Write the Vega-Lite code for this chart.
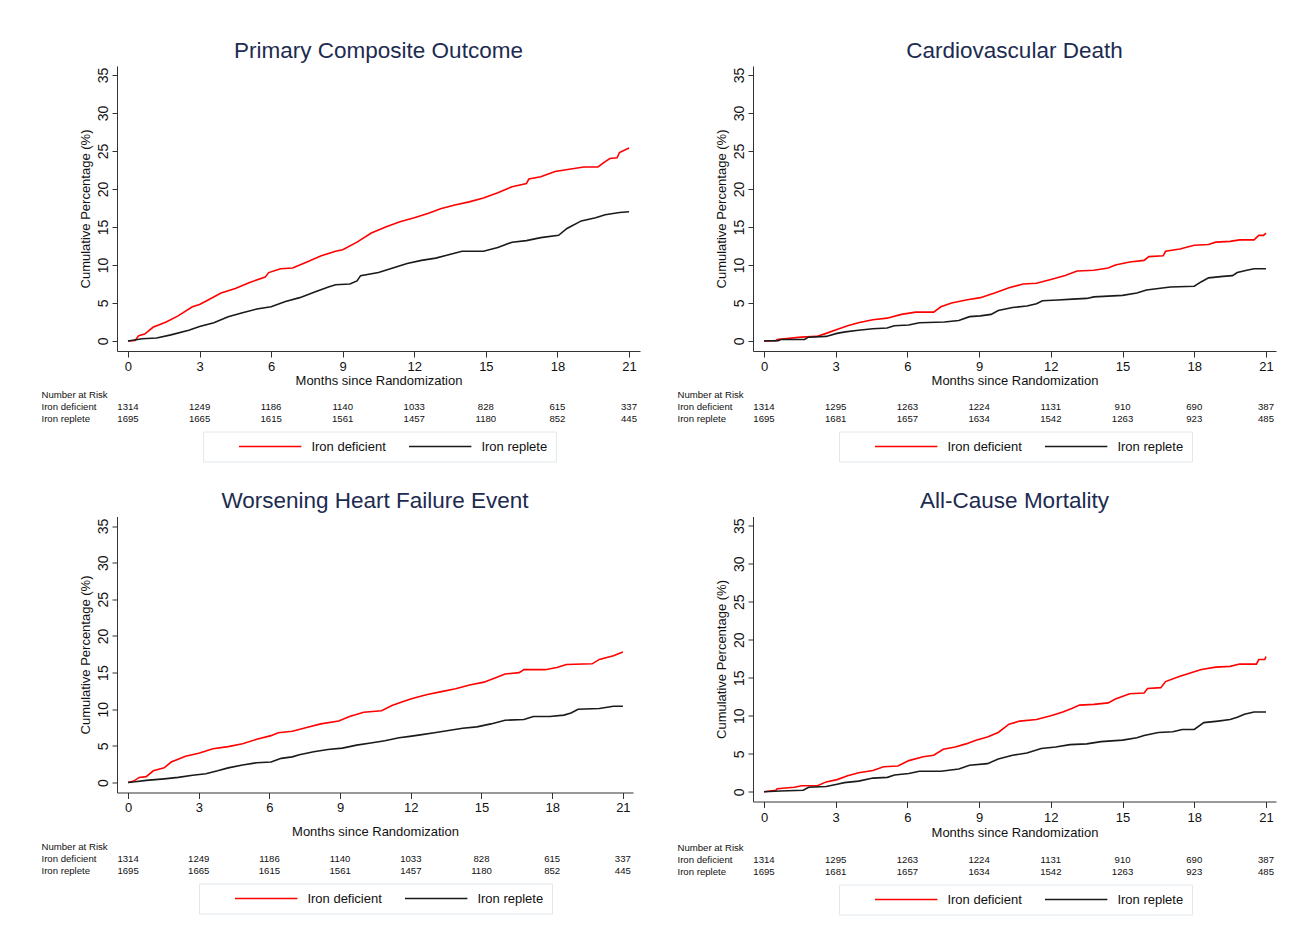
{
  "$schema": "https://vega.github.io/schema/vega-lite/v6.json",
  "background": "white",
  "padding": {"left": 41, "top": 39, "right": 5, "bottom": 5},
  "config": {
    "view": {"stroke": null},
    "font": "Liberation Sans",
    "axis": {"labelFont": "Liberation Sans", "titleFont": "Liberation Sans", "domainColor": "#333333", "tickColor": "#333333", "labelColor": "#111111", "titleColor": "#111111", "titleFontWeight": "normal", "grid": false},
    "legend": {"labelFont": "Liberation Sans"}
  },
  "datasets": {
    "curves": [
      {"p":"A","g":"Iron deficient","t":0,"v":0},{"p":"A","g":"Iron deficient","t":0.3,"v":0.05},{"p":"A","g":"Iron deficient","t":0.45,"v":0.7},{"p":"A","g":"Iron deficient","t":0.7,"v":0.9},{"p":"A","g":"Iron deficient","t":1.05,"v":1.8},{"p":"A","g":"Iron deficient","t":1.6,"v":2.5},{"p":"A","g":"Iron deficient","t":2.1,"v":3.3},{"p":"A","g":"Iron deficient","t":2.7,"v":4.5},{"p":"A","g":"Iron deficient","t":3.0,"v":4.8},{"p":"A","g":"Iron deficient","t":3.3,"v":5.3},{"p":"A","g":"Iron deficient","t":3.9,"v":6.3},{"p":"A","g":"Iron deficient","t":4.5,"v":6.9},{"p":"A","g":"Iron deficient","t":5.1,"v":7.7},{"p":"A","g":"Iron deficient","t":5.75,"v":8.4},{"p":"A","g":"Iron deficient","t":5.9,"v":9.0},{"p":"A","g":"Iron deficient","t":6.4,"v":9.5},{"p":"A","g":"Iron deficient","t":6.9,"v":9.6},{"p":"A","g":"Iron deficient","t":7.5,"v":10.4},{"p":"A","g":"Iron deficient","t":8.1,"v":11.2},{"p":"A","g":"Iron deficient","t":8.7,"v":11.8},{"p":"A","g":"Iron deficient","t":9.0,"v":12.0},{"p":"A","g":"Iron deficient","t":9.6,"v":13.0},{"p":"A","g":"Iron deficient","t":10.2,"v":14.2},{"p":"A","g":"Iron deficient","t":10.8,"v":15.0},{"p":"A","g":"Iron deficient","t":11.4,"v":15.7},{"p":"A","g":"Iron deficient","t":12.0,"v":16.2},{"p":"A","g":"Iron deficient","t":12.6,"v":16.8},{"p":"A","g":"Iron deficient","t":13.1,"v":17.4},{"p":"A","g":"Iron deficient","t":13.7,"v":17.9},{"p":"A","g":"Iron deficient","t":14.3,"v":18.3},{"p":"A","g":"Iron deficient","t":14.9,"v":18.8},{"p":"A","g":"Iron deficient","t":15.5,"v":19.5},{"p":"A","g":"Iron deficient","t":16.1,"v":20.3},{"p":"A","g":"Iron deficient","t":16.7,"v":20.7},{"p":"A","g":"Iron deficient","t":16.8,"v":21.3},{"p":"A","g":"Iron deficient","t":17.3,"v":21.6},{"p":"A","g":"Iron deficient","t":17.9,"v":22.3},{"p":"A","g":"Iron deficient","t":18.5,"v":22.6},{"p":"A","g":"Iron deficient","t":19.1,"v":22.9},{"p":"A","g":"Iron deficient","t":19.7,"v":22.9},{"p":"A","g":"Iron deficient","t":20.0,"v":23.6},{"p":"A","g":"Iron deficient","t":20.2,"v":24.0},{"p":"A","g":"Iron deficient","t":20.5,"v":24.1},{"p":"A","g":"Iron deficient","t":20.6,"v":24.8},{"p":"A","g":"Iron deficient","t":21.0,"v":25.4},
      {"p":"A","g":"Iron replete","t":0,"v":0},{"p":"A","g":"Iron replete","t":0.6,"v":0.3},{"p":"A","g":"Iron replete","t":1.2,"v":0.4},{"p":"A","g":"Iron replete","t":1.8,"v":0.8},{"p":"A","g":"Iron replete","t":2.55,"v":1.4},{"p":"A","g":"Iron replete","t":3.0,"v":1.9},{"p":"A","g":"Iron replete","t":3.6,"v":2.4},{"p":"A","g":"Iron replete","t":4.2,"v":3.2},{"p":"A","g":"Iron replete","t":4.8,"v":3.7},{"p":"A","g":"Iron replete","t":5.4,"v":4.2},{"p":"A","g":"Iron replete","t":6.0,"v":4.5},{"p":"A","g":"Iron replete","t":6.6,"v":5.2},{"p":"A","g":"Iron replete","t":7.2,"v":5.7},{"p":"A","g":"Iron replete","t":7.8,"v":6.4},{"p":"A","g":"Iron replete","t":8.4,"v":7.1},{"p":"A","g":"Iron replete","t":8.7,"v":7.4},{"p":"A","g":"Iron replete","t":9.3,"v":7.5},{"p":"A","g":"Iron replete","t":9.6,"v":7.9},{"p":"A","g":"Iron replete","t":9.75,"v":8.6},{"p":"A","g":"Iron replete","t":10.5,"v":9.0},{"p":"A","g":"Iron replete","t":11.1,"v":9.6},{"p":"A","g":"Iron replete","t":11.7,"v":10.2},{"p":"A","g":"Iron replete","t":12.3,"v":10.6},{"p":"A","g":"Iron replete","t":12.9,"v":10.9},{"p":"A","g":"Iron replete","t":13.4,"v":11.3},{"p":"A","g":"Iron replete","t":14.0,"v":11.8},{"p":"A","g":"Iron replete","t":14.9,"v":11.8},{"p":"A","g":"Iron replete","t":15.5,"v":12.3},{"p":"A","g":"Iron replete","t":16.1,"v":13.0},{"p":"A","g":"Iron replete","t":16.7,"v":13.2},{"p":"A","g":"Iron replete","t":17.3,"v":13.6},{"p":"A","g":"Iron replete","t":18.05,"v":13.9},{"p":"A","g":"Iron replete","t":18.4,"v":14.8},{"p":"A","g":"Iron replete","t":19.0,"v":15.8},{"p":"A","g":"Iron replete","t":19.6,"v":16.2},{"p":"A","g":"Iron replete","t":20.0,"v":16.6},{"p":"A","g":"Iron replete","t":20.6,"v":16.9},{"p":"A","g":"Iron replete","t":21.0,"v":17.0},
      {"p":"B","g":"Iron deficient","t":0,"v":0},{"p":"B","g":"Iron deficient","t":0.5,"v":0.05},{"p":"B","g":"Iron deficient","t":0.55,"v":0.2},{"p":"B","g":"Iron deficient","t":1.55,"v":0.5},{"p":"B","g":"Iron deficient","t":2.2,"v":0.6},{"p":"B","g":"Iron deficient","t":2.6,"v":1.0},{"p":"B","g":"Iron deficient","t":3.05,"v":1.5},{"p":"B","g":"Iron deficient","t":3.5,"v":2.0},{"p":"B","g":"Iron deficient","t":3.95,"v":2.4},{"p":"B","g":"Iron deficient","t":4.55,"v":2.8},{"p":"B","g":"Iron deficient","t":5.15,"v":3.0},{"p":"B","g":"Iron deficient","t":5.75,"v":3.5},{"p":"B","g":"Iron deficient","t":6.35,"v":3.8},{"p":"B","g":"Iron deficient","t":7.1,"v":3.8},{"p":"B","g":"Iron deficient","t":7.4,"v":4.5},{"p":"B","g":"Iron deficient","t":7.85,"v":5.0},{"p":"B","g":"Iron deficient","t":8.45,"v":5.4},{"p":"B","g":"Iron deficient","t":9.05,"v":5.7},{"p":"B","g":"Iron deficient","t":9.65,"v":6.3},{"p":"B","g":"Iron deficient","t":10.25,"v":7.0},{"p":"B","g":"Iron deficient","t":10.85,"v":7.5},{"p":"B","g":"Iron deficient","t":11.4,"v":7.6},{"p":"B","g":"Iron deficient","t":12.0,"v":8.1},{"p":"B","g":"Iron deficient","t":12.6,"v":8.6},{"p":"B","g":"Iron deficient","t":13.1,"v":9.2},{"p":"B","g":"Iron deficient","t":13.8,"v":9.3},{"p":"B","g":"Iron deficient","t":14.4,"v":9.6},{"p":"B","g":"Iron deficient","t":14.7,"v":10.0},{"p":"B","g":"Iron deficient","t":15.3,"v":10.4},{"p":"B","g":"Iron deficient","t":15.9,"v":10.6},{"p":"B","g":"Iron deficient","t":16.1,"v":11.1},{"p":"B","g":"Iron deficient","t":16.7,"v":11.2},{"p":"B","g":"Iron deficient","t":16.8,"v":11.8},{"p":"B","g":"Iron deficient","t":17.4,"v":12.1},{"p":"B","g":"Iron deficient","t":18.0,"v":12.6},{"p":"B","g":"Iron deficient","t":18.6,"v":12.7},{"p":"B","g":"Iron deficient","t":18.9,"v":13.0},{"p":"B","g":"Iron deficient","t":19.5,"v":13.1},{"p":"B","g":"Iron deficient","t":19.9,"v":13.3},{"p":"B","g":"Iron deficient","t":20.5,"v":13.3},{"p":"B","g":"Iron deficient","t":20.7,"v":13.9},{"p":"B","g":"Iron deficient","t":20.9,"v":13.9},{"p":"B","g":"Iron deficient","t":21.0,"v":14.2},
      {"p":"B","g":"Iron replete","t":0,"v":0},{"p":"B","g":"Iron replete","t":0.6,"v":0.05},{"p":"B","g":"Iron replete","t":0.7,"v":0.2},{"p":"B","g":"Iron replete","t":1.7,"v":0.2},{"p":"B","g":"Iron replete","t":1.85,"v":0.5},{"p":"B","g":"Iron replete","t":2.6,"v":0.6},{"p":"B","g":"Iron replete","t":3.05,"v":1.0},{"p":"B","g":"Iron replete","t":3.4,"v":1.2},{"p":"B","g":"Iron replete","t":3.95,"v":1.4},{"p":"B","g":"Iron replete","t":4.55,"v":1.6},{"p":"B","g":"Iron replete","t":5.15,"v":1.7},{"p":"B","g":"Iron replete","t":5.45,"v":2.0},{"p":"B","g":"Iron replete","t":6.05,"v":2.1},{"p":"B","g":"Iron replete","t":6.5,"v":2.4},{"p":"B","g":"Iron replete","t":7.55,"v":2.5},{"p":"B","g":"Iron replete","t":8.15,"v":2.7},{"p":"B","g":"Iron replete","t":8.6,"v":3.2},{"p":"B","g":"Iron replete","t":9.05,"v":3.3},{"p":"B","g":"Iron replete","t":9.5,"v":3.5},{"p":"B","g":"Iron replete","t":9.8,"v":4.0},{"p":"B","g":"Iron replete","t":10.4,"v":4.4},{"p":"B","g":"Iron replete","t":11.0,"v":4.6},{"p":"B","g":"Iron replete","t":11.4,"v":4.9},{"p":"B","g":"Iron replete","t":11.65,"v":5.3},{"p":"B","g":"Iron replete","t":12.3,"v":5.4},{"p":"B","g":"Iron replete","t":12.9,"v":5.5},{"p":"B","g":"Iron replete","t":13.5,"v":5.6},{"p":"B","g":"Iron replete","t":13.8,"v":5.8},{"p":"B","g":"Iron replete","t":14.4,"v":5.9},{"p":"B","g":"Iron replete","t":15.0,"v":6.0},{"p":"B","g":"Iron replete","t":15.6,"v":6.3},{"p":"B","g":"Iron replete","t":16.0,"v":6.7},{"p":"B","g":"Iron replete","t":16.5,"v":6.9},{"p":"B","g":"Iron replete","t":17.0,"v":7.1},{"p":"B","g":"Iron replete","t":18.0,"v":7.2},{"p":"B","g":"Iron replete","t":18.3,"v":7.8},{"p":"B","g":"Iron replete","t":18.6,"v":8.3},{"p":"B","g":"Iron replete","t":19.2,"v":8.5},{"p":"B","g":"Iron replete","t":19.6,"v":8.6},{"p":"B","g":"Iron replete","t":19.8,"v":9.0},{"p":"B","g":"Iron replete","t":20.2,"v":9.3},{"p":"B","g":"Iron replete","t":20.5,"v":9.5},{"p":"B","g":"Iron replete","t":21.0,"v":9.5},
      {"p":"C","g":"Iron deficient","t":0,"v":0},{"p":"C","g":"Iron deficient","t":0.24,"v":0.2},{"p":"C","g":"Iron deficient","t":0.47,"v":0.7},{"p":"C","g":"Iron deficient","t":0.77,"v":0.8},{"p":"C","g":"Iron deficient","t":1.07,"v":1.6},{"p":"C","g":"Iron deficient","t":1.53,"v":2.0},{"p":"C","g":"Iron deficient","t":1.83,"v":2.8},{"p":"C","g":"Iron deficient","t":2.44,"v":3.6},{"p":"C","g":"Iron deficient","t":3.0,"v":4.0},{"p":"C","g":"Iron deficient","t":3.6,"v":4.6},{"p":"C","g":"Iron deficient","t":4.25,"v":4.9},{"p":"C","g":"Iron deficient","t":4.86,"v":5.3},{"p":"C","g":"Iron deficient","t":5.46,"v":5.9},{"p":"C","g":"Iron deficient","t":6.07,"v":6.4},{"p":"C","g":"Iron deficient","t":6.37,"v":6.8},{"p":"C","g":"Iron deficient","t":6.97,"v":7.0},{"p":"C","g":"Iron deficient","t":7.58,"v":7.5},{"p":"C","g":"Iron deficient","t":8.18,"v":8.0},{"p":"C","g":"Iron deficient","t":8.94,"v":8.4},{"p":"C","g":"Iron deficient","t":9.4,"v":9.0},{"p":"C","g":"Iron deficient","t":10.0,"v":9.6},{"p":"C","g":"Iron deficient","t":10.76,"v":9.8},{"p":"C","g":"Iron deficient","t":11.2,"v":10.5},{"p":"C","g":"Iron deficient","t":11.8,"v":11.2},{"p":"C","g":"Iron deficient","t":12.1,"v":11.5},{"p":"C","g":"Iron deficient","t":12.7,"v":12.0},{"p":"C","g":"Iron deficient","t":13.3,"v":12.4},{"p":"C","g":"Iron deficient","t":13.9,"v":12.8},{"p":"C","g":"Iron deficient","t":14.5,"v":13.3},{"p":"C","g":"Iron deficient","t":15.1,"v":13.7},{"p":"C","g":"Iron deficient","t":15.6,"v":14.3},{"p":"C","g":"Iron deficient","t":16.0,"v":14.8},{"p":"C","g":"Iron deficient","t":16.6,"v":15.0},{"p":"C","g":"Iron deficient","t":16.8,"v":15.4},{"p":"C","g":"Iron deficient","t":17.7,"v":15.4},{"p":"C","g":"Iron deficient","t":18.2,"v":15.7},{"p":"C","g":"Iron deficient","t":18.6,"v":16.1},{"p":"C","g":"Iron deficient","t":19.7,"v":16.2},{"p":"C","g":"Iron deficient","t":20.0,"v":16.8},{"p":"C","g":"Iron deficient","t":20.6,"v":17.3},{"p":"C","g":"Iron deficient","t":21.0,"v":17.8},
      {"p":"C","g":"Iron replete","t":0,"v":0},{"p":"C","g":"Iron replete","t":0.3,"v":0.1},{"p":"C","g":"Iron replete","t":0.77,"v":0.3},{"p":"C","g":"Iron replete","t":1.53,"v":0.5},{"p":"C","g":"Iron replete","t":2.13,"v":0.7},{"p":"C","g":"Iron replete","t":2.74,"v":1.0},{"p":"C","g":"Iron replete","t":3.3,"v":1.2},{"p":"C","g":"Iron replete","t":3.8,"v":1.6},{"p":"C","g":"Iron replete","t":4.25,"v":2.0},{"p":"C","g":"Iron replete","t":4.86,"v":2.4},{"p":"C","g":"Iron replete","t":5.46,"v":2.7},{"p":"C","g":"Iron replete","t":6.07,"v":2.8},{"p":"C","g":"Iron replete","t":6.5,"v":3.3},{"p":"C","g":"Iron replete","t":6.97,"v":3.5},{"p":"C","g":"Iron replete","t":7.27,"v":3.8},{"p":"C","g":"Iron replete","t":7.88,"v":4.2},{"p":"C","g":"Iron replete","t":8.48,"v":4.5},{"p":"C","g":"Iron replete","t":9.1,"v":4.7},{"p":"C","g":"Iron replete","t":9.7,"v":5.1},{"p":"C","g":"Iron replete","t":10.3,"v":5.4},{"p":"C","g":"Iron replete","t":10.9,"v":5.7},{"p":"C","g":"Iron replete","t":11.5,"v":6.1},{"p":"C","g":"Iron replete","t":11.96,"v":6.3},{"p":"C","g":"Iron replete","t":12.4,"v":6.5},{"p":"C","g":"Iron replete","t":13.0,"v":6.8},{"p":"C","g":"Iron replete","t":13.6,"v":7.1},{"p":"C","g":"Iron replete","t":14.2,"v":7.4},{"p":"C","g":"Iron replete","t":14.8,"v":7.6},{"p":"C","g":"Iron replete","t":15.4,"v":8.0},{"p":"C","g":"Iron replete","t":16.0,"v":8.5},{"p":"C","g":"Iron replete","t":16.8,"v":8.6},{"p":"C","g":"Iron replete","t":17.2,"v":9.0},{"p":"C","g":"Iron replete","t":17.9,"v":9.0},{"p":"C","g":"Iron replete","t":18.5,"v":9.2},{"p":"C","g":"Iron replete","t":18.8,"v":9.5},{"p":"C","g":"Iron replete","t":19.1,"v":10.0},{"p":"C","g":"Iron replete","t":20.0,"v":10.1},{"p":"C","g":"Iron replete","t":20.6,"v":10.4},{"p":"C","g":"Iron replete","t":21.0,"v":10.4},
      {"p":"D","g":"Iron deficient","t":0,"v":0},{"p":"D","g":"Iron deficient","t":0.5,"v":0.2},{"p":"D","g":"Iron deficient","t":0.55,"v":0.4},{"p":"D","g":"Iron deficient","t":1.27,"v":0.6},{"p":"D","g":"Iron deficient","t":1.57,"v":0.8},{"p":"D","g":"Iron deficient","t":2.24,"v":0.8},{"p":"D","g":"Iron deficient","t":2.6,"v":1.3},{"p":"D","g":"Iron deficient","t":3.06,"v":1.6},{"p":"D","g":"Iron deficient","t":3.5,"v":2.1},{"p":"D","g":"Iron deficient","t":3.96,"v":2.5},{"p":"D","g":"Iron deficient","t":4.56,"v":2.8},{"p":"D","g":"Iron deficient","t":5.0,"v":3.3},{"p":"D","g":"Iron deficient","t":5.6,"v":3.4},{"p":"D","g":"Iron deficient","t":6.06,"v":4.1},{"p":"D","g":"Iron deficient","t":6.66,"v":4.6},{"p":"D","g":"Iron deficient","t":7.1,"v":4.8},{"p":"D","g":"Iron deficient","t":7.5,"v":5.6},{"p":"D","g":"Iron deficient","t":8.0,"v":5.9},{"p":"D","g":"Iron deficient","t":8.45,"v":6.3},{"p":"D","g":"Iron deficient","t":8.9,"v":6.8},{"p":"D","g":"Iron deficient","t":9.35,"v":7.2},{"p":"D","g":"Iron deficient","t":9.8,"v":7.8},{"p":"D","g":"Iron deficient","t":10.25,"v":8.9},{"p":"D","g":"Iron deficient","t":10.7,"v":9.3},{"p":"D","g":"Iron deficient","t":11.4,"v":9.5},{"p":"D","g":"Iron deficient","t":12.0,"v":10.0},{"p":"D","g":"Iron deficient","t":12.5,"v":10.5},{"p":"D","g":"Iron deficient","t":12.9,"v":11.0},{"p":"D","g":"Iron deficient","t":13.2,"v":11.4},{"p":"D","g":"Iron deficient","t":13.8,"v":11.5},{"p":"D","g":"Iron deficient","t":14.4,"v":11.7},{"p":"D","g":"Iron deficient","t":14.7,"v":12.2},{"p":"D","g":"Iron deficient","t":15.3,"v":12.9},{"p":"D","g":"Iron deficient","t":15.9,"v":13.0},{"p":"D","g":"Iron deficient","t":16.05,"v":13.6},{"p":"D","g":"Iron deficient","t":16.6,"v":13.7},{"p":"D","g":"Iron deficient","t":16.8,"v":14.5},{"p":"D","g":"Iron deficient","t":17.4,"v":15.2},{"p":"D","g":"Iron deficient","t":18.0,"v":15.8},{"p":"D","g":"Iron deficient","t":18.3,"v":16.1},{"p":"D","g":"Iron deficient","t":18.9,"v":16.4},{"p":"D","g":"Iron deficient","t":19.5,"v":16.5},{"p":"D","g":"Iron deficient","t":19.9,"v":16.8},{"p":"D","g":"Iron deficient","t":20.6,"v":16.8},{"p":"D","g":"Iron deficient","t":20.7,"v":17.4},{"p":"D","g":"Iron deficient","t":20.95,"v":17.4},{"p":"D","g":"Iron deficient","t":21.0,"v":17.8},
      {"p":"D","g":"Iron replete","t":0,"v":0},{"p":"D","g":"Iron replete","t":0.67,"v":0.1},{"p":"D","g":"Iron replete","t":1.64,"v":0.2},{"p":"D","g":"Iron replete","t":1.87,"v":0.6},{"p":"D","g":"Iron replete","t":2.6,"v":0.7},{"p":"D","g":"Iron replete","t":3.06,"v":1.0},{"p":"D","g":"Iron replete","t":3.36,"v":1.2},{"p":"D","g":"Iron replete","t":3.96,"v":1.4},{"p":"D","g":"Iron replete","t":4.56,"v":1.8},{"p":"D","g":"Iron replete","t":5.16,"v":1.9},{"p":"D","g":"Iron replete","t":5.46,"v":2.2},{"p":"D","g":"Iron replete","t":6.06,"v":2.4},{"p":"D","g":"Iron replete","t":6.5,"v":2.7},{"p":"D","g":"Iron replete","t":7.4,"v":2.7},{"p":"D","g":"Iron replete","t":8.15,"v":3.0},{"p":"D","g":"Iron replete","t":8.6,"v":3.5},{"p":"D","g":"Iron replete","t":9.35,"v":3.7},{"p":"D","g":"Iron replete","t":9.8,"v":4.3},{"p":"D","g":"Iron replete","t":10.4,"v":4.8},{"p":"D","g":"Iron replete","t":11.0,"v":5.1},{"p":"D","g":"Iron replete","t":11.6,"v":5.7},{"p":"D","g":"Iron replete","t":12.2,"v":5.9},{"p":"D","g":"Iron replete","t":12.8,"v":6.2},{"p":"D","g":"Iron replete","t":13.5,"v":6.3},{"p":"D","g":"Iron replete","t":14.1,"v":6.6},{"p":"D","g":"Iron replete","t":15.0,"v":6.8},{"p":"D","g":"Iron replete","t":15.6,"v":7.1},{"p":"D","g":"Iron replete","t":15.9,"v":7.4},{"p":"D","g":"Iron replete","t":16.5,"v":7.8},{"p":"D","g":"Iron replete","t":17.1,"v":7.9},{"p":"D","g":"Iron replete","t":17.5,"v":8.2},{"p":"D","g":"Iron replete","t":18.0,"v":8.2},{"p":"D","g":"Iron replete","t":18.4,"v":9.1},{"p":"D","g":"Iron replete","t":19.0,"v":9.3},{"p":"D","g":"Iron replete","t":19.5,"v":9.5},{"p":"D","g":"Iron replete","t":19.8,"v":9.8},{"p":"D","g":"Iron replete","t":20.1,"v":10.2},{"p":"D","g":"Iron replete","t":20.5,"v":10.5},{"p":"D","g":"Iron replete","t":21.0,"v":10.5}
    ],
    "risk": [
      {"p":"A","row":"Iron deficient","t":0,"n":1314},{"p":"A","row":"Iron deficient","t":3,"n":1249},{"p":"A","row":"Iron deficient","t":6,"n":1186},{"p":"A","row":"Iron deficient","t":9,"n":1140},{"p":"A","row":"Iron deficient","t":12,"n":1033},{"p":"A","row":"Iron deficient","t":15,"n":828},{"p":"A","row":"Iron deficient","t":18,"n":615},{"p":"A","row":"Iron deficient","t":21,"n":337},
      {"p":"A","row":"Iron replete","t":0,"n":1695},{"p":"A","row":"Iron replete","t":3,"n":1665},{"p":"A","row":"Iron replete","t":6,"n":1615},{"p":"A","row":"Iron replete","t":9,"n":1561},{"p":"A","row":"Iron replete","t":12,"n":1457},{"p":"A","row":"Iron replete","t":15,"n":1180},{"p":"A","row":"Iron replete","t":18,"n":852},{"p":"A","row":"Iron replete","t":21,"n":445},
      {"p":"B","row":"Iron deficient","t":0,"n":1314},{"p":"B","row":"Iron deficient","t":3,"n":1295},{"p":"B","row":"Iron deficient","t":6,"n":1263},{"p":"B","row":"Iron deficient","t":9,"n":1224},{"p":"B","row":"Iron deficient","t":12,"n":1131},{"p":"B","row":"Iron deficient","t":15,"n":910},{"p":"B","row":"Iron deficient","t":18,"n":690},{"p":"B","row":"Iron deficient","t":21,"n":387},
      {"p":"B","row":"Iron replete","t":0,"n":1695},{"p":"B","row":"Iron replete","t":3,"n":1681},{"p":"B","row":"Iron replete","t":6,"n":1657},{"p":"B","row":"Iron replete","t":9,"n":1634},{"p":"B","row":"Iron replete","t":12,"n":1542},{"p":"B","row":"Iron replete","t":15,"n":1263},{"p":"B","row":"Iron replete","t":18,"n":923},{"p":"B","row":"Iron replete","t":21,"n":485},
      {"p":"C","row":"Iron deficient","t":0,"n":1314},{"p":"C","row":"Iron deficient","t":3,"n":1249},{"p":"C","row":"Iron deficient","t":6,"n":1186},{"p":"C","row":"Iron deficient","t":9,"n":1140},{"p":"C","row":"Iron deficient","t":12,"n":1033},{"p":"C","row":"Iron deficient","t":15,"n":828},{"p":"C","row":"Iron deficient","t":18,"n":615},{"p":"C","row":"Iron deficient","t":21,"n":337},
      {"p":"C","row":"Iron replete","t":0,"n":1695},{"p":"C","row":"Iron replete","t":3,"n":1665},{"p":"C","row":"Iron replete","t":6,"n":1615},{"p":"C","row":"Iron replete","t":9,"n":1561},{"p":"C","row":"Iron replete","t":12,"n":1457},{"p":"C","row":"Iron replete","t":15,"n":1180},{"p":"C","row":"Iron replete","t":18,"n":852},{"p":"C","row":"Iron replete","t":21,"n":445},
      {"p":"D","row":"Iron deficient","t":0,"n":1314},{"p":"D","row":"Iron deficient","t":3,"n":1295},{"p":"D","row":"Iron deficient","t":6,"n":1263},{"p":"D","row":"Iron deficient","t":9,"n":1224},{"p":"D","row":"Iron deficient","t":12,"n":1131},{"p":"D","row":"Iron deficient","t":15,"n":910},{"p":"D","row":"Iron deficient","t":18,"n":690},{"p":"D","row":"Iron deficient","t":21,"n":387},
      {"p":"D","row":"Iron replete","t":0,"n":1695},{"p":"D","row":"Iron replete","t":3,"n":1681},{"p":"D","row":"Iron replete","t":6,"n":1657},{"p":"D","row":"Iron replete","t":9,"n":1634},{"p":"D","row":"Iron replete","t":12,"n":1542},{"p":"D","row":"Iron replete","t":15,"n":1263},{"p":"D","row":"Iron replete","t":18,"n":923},{"p":"D","row":"Iron replete","t":21,"n":485}
    ]
  },
  "resolve": {"scale": {"x": "independent", "y": "independent", "color": "independent"}, "axis": {"x": "independent", "y": "independent"}, "legend": {"color": "independent"}},
  "spacing": 27.5,
  "vconcat": [
    {
      "spacing": 37,
      "resolve": {"scale": {"x": "independent", "y": "independent", "color": "independent"}, "axis": {"x": "independent", "y": "independent"}, "legend": {"color": "independent"}},
      "hconcat": [
        {
          "spacing": 1.5,
          "resolve": {"scale": {"x": "independent", "y": "independent", "color": "independent"}, "axis": {"x": "independent", "y": "independent"}, "legend": {"color": "independent"}},
          "vconcat": [
            {
              "title": {"text": "Primary Composite Outcome", "fontSize": 22.5, "baseline": "alphabetic", "offset": -14, "color": "#1d2b50", "font": "Liberation Sans", "fontWeight": "normal", "anchor": "middle"},
              "width": 523, "height": 285,
              "data": {"name": "curves"},
              "transform": [{"filter": "datum.p === 'A'"}],
              "mark": {"type": "line", "strokeWidth": 1.6},
              "encoding": {
                "x": {"field": "t", "type": "quantitative", "scale": {"domain": [-0.46, 21.46], "nice": false, "zero": false}, "axis": {"values": [0,3,6,9,12,15,18,21], "title": "Months since Randomization", "labelFontSize": 13, "titleFontSize": 13, "tickSize": 6, "labelPadding": 3, "titlePadding": 1, "labelFlush": false, "labelOverlap": false}},
                "y": {"field": "v", "type": "quantitative", "scale": {"domain": [-1.32, 36.18], "nice": false, "zero": false}, "axis": {"values": [0,5,10,15,20,25,30,35], "title": "Cumulative Percentage (%)", "labelAngle": 270, "labelAlign": "center", "labelBaseline": "bottom", "labelFontSize": 14, "titleFontSize": 13, "tickSize": 5, "labelPadding": 2, "titlePadding": 4}},
                "color": {"field": "g", "type": "nominal", "scale": {"domain": ["Iron deficient", "Iron replete"], "range": ["#ff0000", "#1a1a1a"]}, "legend": null}
              }
            },
            {
              "width": 523, "height": 36,
              "layer": [
                {
                  "data": {"name": "risk"},
                  "transform": [{"filter": "datum.p === 'A'"}],
                  "mark": {"type": "text", "fontSize": 9.6, "font": "Liberation Sans", "color": "#111111"},
                  "encoding": {
                    "x": {"field": "t", "type": "quantitative", "scale": {"domain": [-0.46, 21.46], "nice": false, "zero": false}, "axis": null},
                    "y": {"field": "row", "type": "nominal", "scale": {"domain": ["Number at Risk", "Iron deficient", "Iron replete"]}, "axis": {"title": null, "domain": false, "ticks": false, "tickSize": 0, "labelAlign": "left", "labelBaseline": "middle", "labelPadding": 76, "labelFontSize": 9.6, "labelColor": "#111111"}},
                    "text": {"field": "n", "type": "quantitative", "format": "d"}
                  }
                },
                {
                  "data": {"name": "curves"},
                  "transform": [{"filter": "false"}],
                  "mark": {"type": "line"},
                  "encoding": {
                    "x": {"field": "t", "type": "quantitative"},
                    "y": {"field": "row", "type": "nominal"},
                    "color": {"field": "g", "type": "nominal", "scale": {"domain": ["Iron deficient", "Iron replete"], "range": ["#ff0000", "#1a1a1a"]},
                      "legend": {"orient": "none", "legendX": 86, "legendY": 43, "direction": "horizontal", "title": "\u00a0", "titleOrient": "left", "titleFontSize": 1, "titlePadding": 28, "padding": 8, "strokeColor": "#e2e8ec", "fillColor": "white", "symbolType": "M-5.2,0H5.2", "symbolSize": 144, "symbolStrokeWidth": 1.6, "symbolOffset": 24.2, "labelOffset": 34.2, "labelFontSize": 13, "labelColor": "#111111", "columnPadding": 19}}
                  }
                }
              ]
            }
          ]
        },
        {
          "spacing": 1.5,
          "resolve": {"scale": {"x": "independent", "y": "independent", "color": "independent"}, "axis": {"x": "independent", "y": "independent"}, "legend": {"color": "independent"}},
          "vconcat": [
            {
              "title": {"text": "Cardiovascular Death", "fontSize": 22.5, "baseline": "alphabetic", "offset": -14, "color": "#1d2b50", "font": "Liberation Sans", "fontWeight": "normal", "anchor": "middle"},
              "width": 523, "height": 285,
              "data": {"name": "curves"},
              "transform": [{"filter": "datum.p === 'B'"}],
              "mark": {"type": "line", "strokeWidth": 1.6},
              "encoding": {
                "x": {"field": "t", "type": "quantitative", "scale": {"domain": [-0.46, 21.42], "nice": false, "zero": false}, "axis": {"values": [0,3,6,9,12,15,18,21], "title": "Months since Randomization", "labelFontSize": 13, "titleFontSize": 13, "tickSize": 6, "labelPadding": 3, "titlePadding": 1, "labelFlush": false, "labelOverlap": false}},
                "y": {"field": "v", "type": "quantitative", "scale": {"domain": [-1.32, 36.18], "nice": false, "zero": false}, "axis": {"values": [0,5,10,15,20,25,30,35], "title": "Cumulative Percentage (%)", "labelAngle": 270, "labelAlign": "center", "labelBaseline": "bottom", "labelFontSize": 14, "titleFontSize": 13, "tickSize": 5, "labelPadding": 2, "titlePadding": 4}},
                "color": {"field": "g", "type": "nominal", "scale": {"domain": ["Iron deficient", "Iron replete"], "range": ["#ff0000", "#1a1a1a"]}, "legend": null}
              }
            },
            {
              "width": 523, "height": 36,
              "layer": [
                {
                  "data": {"name": "risk"},
                  "transform": [{"filter": "datum.p === 'B'"}],
                  "mark": {"type": "text", "fontSize": 9.6, "font": "Liberation Sans", "color": "#111111"},
                  "encoding": {
                    "x": {"field": "t", "type": "quantitative", "scale": {"domain": [-0.46, 21.42], "nice": false, "zero": false}, "axis": null},
                    "y": {"field": "row", "type": "nominal", "scale": {"domain": ["Number at Risk", "Iron deficient", "Iron replete"]}, "axis": {"title": null, "domain": false, "ticks": false, "tickSize": 0, "labelAlign": "left", "labelBaseline": "middle", "labelPadding": 76, "labelFontSize": 9.6, "labelColor": "#111111"}},
                    "text": {"field": "n", "type": "quantitative", "format": "d"}
                  }
                },
                {
                  "data": {"name": "curves"},
                  "transform": [{"filter": "false"}],
                  "mark": {"type": "line"},
                  "encoding": {
                    "x": {"field": "t", "type": "quantitative"},
                    "y": {"field": "row", "type": "nominal"},
                    "color": {"field": "g", "type": "nominal", "scale": {"domain": ["Iron deficient", "Iron replete"], "range": ["#ff0000", "#1a1a1a"]},
                      "legend": {"orient": "none", "legendX": 86, "legendY": 43, "direction": "horizontal", "title": "\u00a0", "titleOrient": "left", "titleFontSize": 1, "titlePadding": 28, "padding": 8, "strokeColor": "#e2e8ec", "fillColor": "white", "symbolType": "M-5.2,0H5.2", "symbolSize": 144, "symbolStrokeWidth": 1.6, "symbolOffset": 24.2, "labelOffset": 34.2, "labelFontSize": 13, "labelColor": "#111111", "columnPadding": 19}}
                  }
                }
              ]
            }
          ]
        }
      ]
    },
    {
      "spacing": 44,
      "resolve": {"scale": {"x": "independent", "y": "independent", "color": "independent"}, "axis": {"x": "independent", "y": "independent"}, "legend": {"color": "independent"}},
      "hconcat": [
        {
          "spacing": 2,
          "resolve": {"scale": {"x": "independent", "y": "independent", "color": "independent"}, "axis": {"x": "independent", "y": "independent"}, "legend": {"color": "independent"}},
          "vconcat": [
            {
              "title": {"text": "Worsening Heart Failure Event", "fontSize": 22.5, "baseline": "alphabetic", "offset": -14, "color": "#1d2b50", "font": "Liberation Sans", "fontWeight": "normal", "anchor": "middle"},
              "width": 516, "height": 276,
              "data": {"name": "curves"},
              "transform": [{"filter": "datum.p === 'C'"}],
              "mark": {"type": "line", "strokeWidth": 1.6},
              "encoding": {
                "x": {"field": "t", "type": "quantitative", "scale": {"domain": [-0.47, 21.43], "nice": false, "zero": false}, "axis": {"values": [0,3,6,9,12,15,18,21], "title": "Months since Randomization", "labelFontSize": 13, "titleFontSize": 13, "tickSize": 6, "labelPadding": 3.2, "titlePadding": 10.8, "labelFlush": false, "labelOverlap": false}},
                "y": {"field": "v", "type": "quantitative", "scale": {"domain": [-1.36, 36.3], "nice": false, "zero": false}, "axis": {"values": [0,5,10,15,20,25,30,35], "title": "Cumulative Percentage (%)", "labelAngle": 270, "labelAlign": "center", "labelBaseline": "bottom", "labelFontSize": 14, "titleFontSize": 13, "tickSize": 5, "labelPadding": 2, "titlePadding": 4}},
                "color": {"field": "g", "type": "nominal", "scale": {"domain": ["Iron deficient", "Iron replete"], "range": ["#ff0000", "#1a1a1a"]}, "legend": null}
              }
            },
            {
              "width": 516, "height": 36,
              "layer": [
                {
                  "data": {"name": "risk"},
                  "transform": [{"filter": "datum.p === 'C'"}],
                  "mark": {"type": "text", "fontSize": 9.6, "font": "Liberation Sans", "color": "#111111"},
                  "encoding": {
                    "x": {"field": "t", "type": "quantitative", "scale": {"domain": [-0.47, 21.43], "nice": false, "zero": false}, "axis": null},
                    "y": {"field": "row", "type": "nominal", "scale": {"domain": ["Number at Risk", "Iron deficient", "Iron replete"]}, "axis": {"title": null, "domain": false, "ticks": false, "tickSize": 0, "labelAlign": "left", "labelBaseline": "middle", "labelPadding": 76, "labelFontSize": 9.6, "labelColor": "#111111"}},
                    "text": {"field": "n", "type": "quantitative", "format": "d"}
                  }
                },
                {
                  "data": {"name": "curves"},
                  "transform": [{"filter": "false"}],
                  "mark": {"type": "line"},
                  "encoding": {
                    "x": {"field": "t", "type": "quantitative"},
                    "y": {"field": "row", "type": "nominal"},
                    "color": {"field": "g", "type": "nominal", "scale": {"domain": ["Iron deficient", "Iron replete"], "range": ["#ff0000", "#1a1a1a"]},
                      "legend": {"orient": "none", "legendX": 82, "legendY": 43, "direction": "horizontal", "title": "\u00a0", "titleOrient": "left", "titleFontSize": 1, "titlePadding": 28, "padding": 8, "strokeColor": "#e2e8ec", "fillColor": "white", "symbolType": "M-5.2,0H5.2", "symbolSize": 144, "symbolStrokeWidth": 1.6, "symbolOffset": 24.2, "labelOffset": 34.2, "labelFontSize": 13, "labelColor": "#111111", "columnPadding": 19}}
                  }
                }
              ]
            }
          ]
        },
        {
          "spacing": 2,
          "resolve": {"scale": {"x": "independent", "y": "independent", "color": "independent"}, "axis": {"x": "independent", "y": "independent"}, "legend": {"color": "independent"}},
          "vconcat": [
            {
              "title": {"text": "All-Cause Mortality", "fontSize": 22.5, "baseline": "alphabetic", "offset": -14, "color": "#1d2b50", "font": "Liberation Sans", "fontWeight": "normal", "anchor": "middle"},
              "width": 523, "height": 285,
              "data": {"name": "curves"},
              "transform": [{"filter": "datum.p === 'D'"}],
              "mark": {"type": "line", "strokeWidth": 1.6},
              "encoding": {
                "x": {"field": "t", "type": "quantitative", "scale": {"domain": [-0.46, 21.42], "nice": false, "zero": false}, "axis": {"values": [0,3,6,9,12,15,18,21], "title": "Months since Randomization", "labelFontSize": 13, "titleFontSize": 13, "tickSize": 6, "labelPadding": 3.8, "titlePadding": 1.8, "labelFlush": false, "labelOverlap": false}},
                "y": {"field": "v", "type": "quantitative", "scale": {"domain": [-1.28, 36.22], "nice": false, "zero": false}, "axis": {"values": [0,5,10,15,20,25,30,35], "title": "Cumulative Percentage (%)", "labelAngle": 270, "labelAlign": "center", "labelBaseline": "bottom", "labelFontSize": 14, "titleFontSize": 13, "tickSize": 5, "labelPadding": 2, "titlePadding": 4}},
                "color": {"field": "g", "type": "nominal", "scale": {"domain": ["Iron deficient", "Iron replete"], "range": ["#ff0000", "#1a1a1a"]}, "legend": null}
              }
            },
            {
              "width": 523, "height": 36,
              "layer": [
                {
                  "data": {"name": "risk"},
                  "transform": [{"filter": "datum.p === 'D'"}],
                  "mark": {"type": "text", "fontSize": 9.6, "font": "Liberation Sans", "color": "#111111"},
                  "encoding": {
                    "x": {"field": "t", "type": "quantitative", "scale": {"domain": [-0.46, 21.42], "nice": false, "zero": false}, "axis": null},
                    "y": {"field": "row", "type": "nominal", "scale": {"domain": ["Number at Risk", "Iron deficient", "Iron replete"]}, "axis": {"title": null, "domain": false, "ticks": false, "tickSize": 0, "labelAlign": "left", "labelBaseline": "middle", "labelPadding": 76, "labelFontSize": 9.6, "labelColor": "#111111"}},
                    "text": {"field": "n", "type": "quantitative", "format": "d"}
                  }
                },
                {
                  "data": {"name": "curves"},
                  "transform": [{"filter": "false"}],
                  "mark": {"type": "line"},
                  "encoding": {
                    "x": {"field": "t", "type": "quantitative"},
                    "y": {"field": "row", "type": "nominal"},
                    "color": {"field": "g", "type": "nominal", "scale": {"domain": ["Iron deficient", "Iron replete"], "range": ["#ff0000", "#1a1a1a"]},
                      "legend": {"orient": "none", "legendX": 86, "legendY": 43, "direction": "horizontal", "title": "\u00a0", "titleOrient": "left", "titleFontSize": 1, "titlePadding": 28, "padding": 8, "strokeColor": "#e2e8ec", "fillColor": "white", "symbolType": "M-5.2,0H5.2", "symbolSize": 144, "symbolStrokeWidth": 1.6, "symbolOffset": 24.2, "labelOffset": 34.2, "labelFontSize": 13, "labelColor": "#111111", "columnPadding": 19}}
                  }
                }
              ]
            }
          ]
        }
      ]
    }
  ]
}
